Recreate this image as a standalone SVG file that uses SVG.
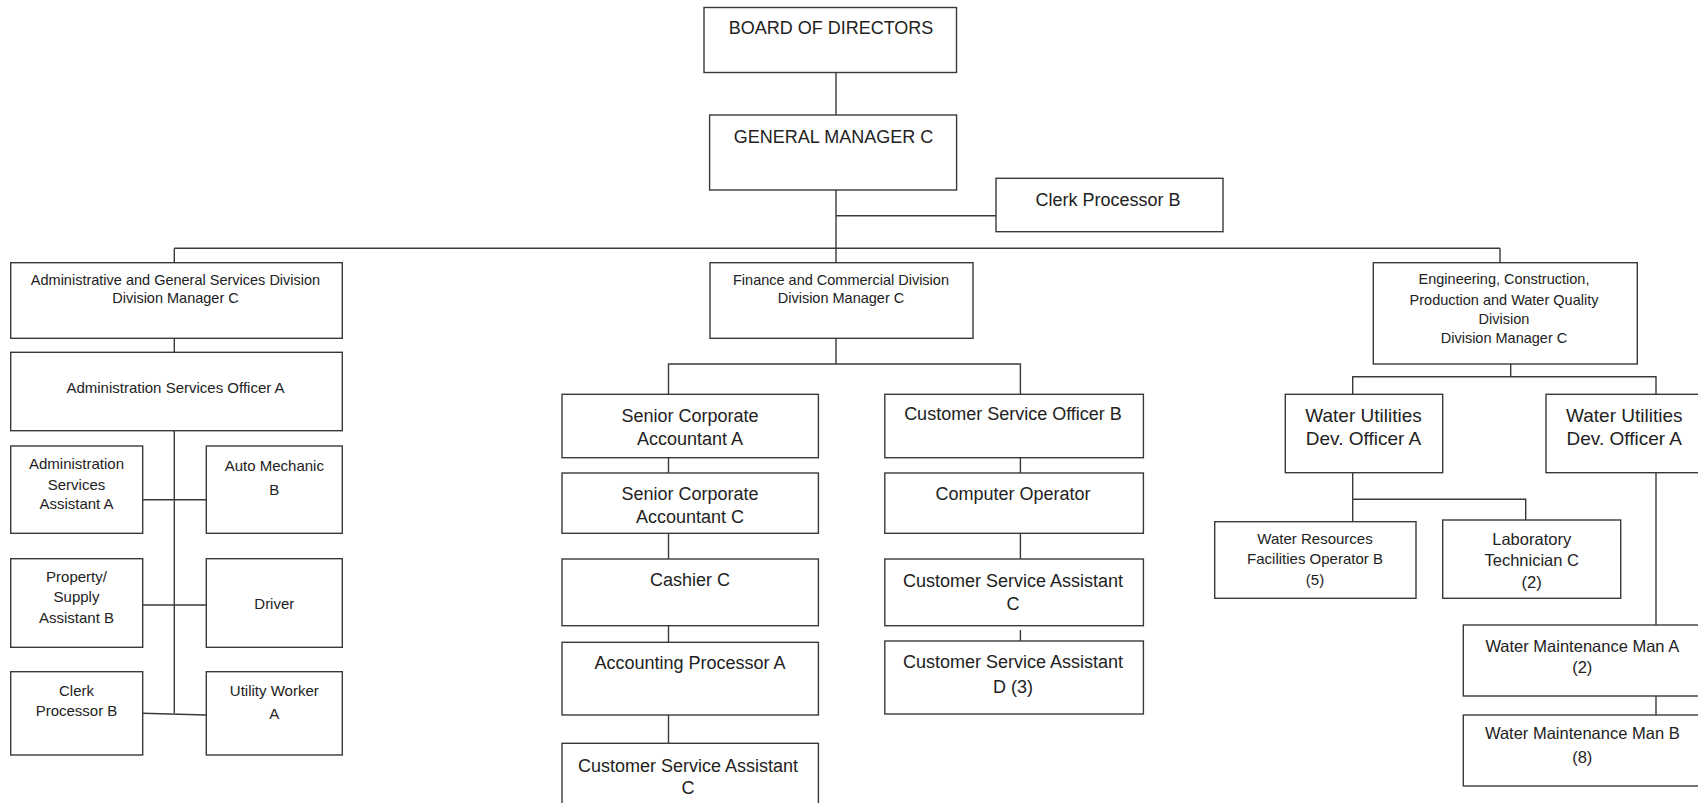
<svg xmlns="http://www.w3.org/2000/svg" width="1698" height="803" viewBox="0 0 1698 803">
<style>
rect{fill:#fff;stroke:#3a3a3a;stroke-width:1.4}
.c line,.c polyline{stroke:#3a3a3a;stroke-width:1.4;fill:none}
text{font-family:"Liberation Sans",Arial,sans-serif;fill:#222;text-anchor:middle}
.xl{font-size:18px}.l{font-size:18px}.m{font-size:16.5px}.s{font-size:15px}.xs{font-size:14.5px}.w{font-size:19px}
</style>
<rect x="0" y="0" width="1698" height="803" style="fill:#fff;stroke:none"/>
<g class="c" id="connectors">
<line x1="836" y1="72.7" x2="836" y2="115"/>
<line x1="836" y1="190" x2="836" y2="262.7"/>
<line x1="836" y1="215.7" x2="996" y2="215.7"/>
<line x1="174.3" y1="248.3" x2="1500" y2="248.3"/>
<line x1="174.3" y1="248.3" x2="174.3" y2="262.7"/>
<line x1="1500" y1="248.3" x2="1500" y2="262.7"/>
<line x1="174.3" y1="338.3" x2="174.3" y2="352.3"/>
<line x1="174.3" y1="430.7" x2="174.3" y2="713.3"/>
<line x1="142.7" y1="499.7" x2="206.3" y2="499.7"/>
<line x1="142.7" y1="605" x2="206.3" y2="605"/>
<line x1="142.7" y1="713.3" x2="206.3" y2="715"/>
<line x1="836" y1="338.3" x2="836" y2="364"/>
<polyline points="668.5,394.3 668.5,364 1020.4,364 1020.4,394.3"/>
<line x1="668.5" y1="457.7" x2="668.5" y2="473"/>
<line x1="668.5" y1="533.3" x2="668.5" y2="559"/>
<line x1="668.5" y1="625.7" x2="668.5" y2="642.3"/>
<line x1="668.5" y1="715" x2="668.5" y2="743.3"/>
<line x1="1020.4" y1="457.7" x2="1020.4" y2="473"/>
<line x1="1020.4" y1="533.3" x2="1020.4" y2="559"/>
<line x1="1020.4" y1="630" x2="1020.4" y2="641"/>
<line x1="1510.7" y1="364" x2="1510.7" y2="376.7"/>
<polyline points="1352.7,394.3 1352.7,376.7 1656,376.7 1656,394.3"/>
<line x1="1352.7" y1="472.7" x2="1352.7" y2="521.7"/>
<polyline points="1352.7,499.3 1525.7,499.3 1525.7,520"/>
<line x1="1656" y1="472.7" x2="1656" y2="625"/>
<line x1="1656" y1="696" x2="1656" y2="715"/>
</g>
<g id="board"><rect x="704" y="7.5" width="252.5" height="65"/><text class="xl" x="831" y="33.8">BOARD OF DIRECTORS</text></g>
<g id="gm"><rect x="709.6" y="115" width="247" height="75"/><text class="xl" x="833.5" y="143.2">GENERAL MANAGER C</text></g>
<g id="clerk-top"><rect x="996" y="178.3" width="227" height="53.4"/><text class="l" x="1108" y="206.3">Clerk Processor B</text></g>
<g id="admin-div"><rect x="10.7" y="262.7" width="331.6" height="75.6"/><text class="xs" x="175.5" y="285.2">Administrative and General Services Division</text><text class="xs" x="175.5" y="303.2">Division Manager C</text></g>
<g id="fin-div"><rect x="710" y="262.7" width="263" height="75.6"/><text class="xs" x="841" y="285.2">Finance and Commercial Division</text><text class="xs" x="841" y="303">Division Manager C</text></g>
<g id="eng-div"><rect x="1373.3" y="262.7" width="264" height="101.3"/><text class="xs" x="1504" y="284.2">Engineering, Construction,</text><text class="xs" x="1504" y="304.5">Production and Water Quality</text><text class="xs" x="1504" y="324">Division</text><text class="xs" x="1504" y="343">Division Manager C</text></g>
<g id="aso"><rect x="10.7" y="352.3" width="331.6" height="78.4"/><text class="s" x="175.5" y="393.3">Administration Services Officer A</text></g>
<g id="asa"><rect x="10.7" y="446" width="132" height="87.3"/><text class="s" x="76.5" y="469">Administration</text><text class="s" x="76.5" y="489.5">Services</text><text class="s" x="76.5" y="509">Assistant A</text></g>
<g id="auto"><rect x="206.3" y="446" width="136" height="87.3"/><text class="s" x="274.3" y="470.5">Auto Mechanic</text><text class="s" x="274.3" y="494.5">B</text></g>
<g id="property"><rect x="10.7" y="558.7" width="132" height="88.6"/><text class="s" x="76.5" y="582">Property/</text><text class="s" x="76.5" y="602">Supply</text><text class="s" x="76.5" y="622.5">Assistant B</text></g>
<g id="driver"><rect x="206.3" y="558.7" width="136" height="88.6"/><text class="s" x="274.3" y="608.7">Driver</text></g>
<g id="clerk-left"><rect x="10.7" y="671.7" width="132" height="83.3"/><text class="s" x="76.5" y="696">Clerk</text><text class="s" x="76.5" y="715.5">Processor B</text></g>
<g id="utility"><rect x="206.3" y="671.7" width="136" height="83.3"/><text class="s" x="274.3" y="696">Utility Worker</text><text class="s" x="274.3" y="718.7">A</text></g>
<g id="sca-a"><rect x="562" y="394.3" width="256.4" height="63.4"/><text class="l" x="690" y="421.5">Senior Corporate</text><text class="l" x="690" y="444.8">Accountant A</text></g>
<g id="cso-b"><rect x="884.8" y="394.3" width="258.6" height="63.4"/><text class="l" x="1013" y="419.8">Customer Service Officer B</text></g>
<g id="sca-c"><rect x="562" y="473" width="256.4" height="60.3"/><text class="l" x="690" y="499.8">Senior Corporate</text><text class="l" x="690" y="522.5">Accountant C</text></g>
<g id="comp-op"><rect x="884.8" y="473" width="258.6" height="60.3"/><text class="l" x="1013" y="499.8">Computer Operator</text></g>
<g id="cashier"><rect x="562" y="559" width="256.4" height="66.7"/><text class="l" x="690" y="585.5">Cashier C</text></g>
<g id="csa-c-right"><rect x="884.8" y="559" width="258.6" height="66.7"/><text class="l" x="1013" y="586.5">Customer Service Assistant</text><text class="l" x="1013" y="609.8">C</text></g>
<g id="acct-proc"><rect x="562" y="642.3" width="256.4" height="72.7"/><text class="l" x="690" y="668.8">Accounting Processor A</text></g>
<g id="csa-d"><rect x="884.8" y="641" width="258.6" height="73"/><text class="l" x="1013" y="668.2">Customer Service Assistant</text><text class="l" x="1013" y="693.2">D (3)</text></g>
<g id="csa-c-left"><rect x="562" y="743.3" width="256.4" height="75"/><text class="l" x="688" y="771.5">Customer Service Assistant</text><text class="l" x="688" y="794.2">C</text></g>
<g id="wudo-left"><rect x="1285.3" y="394.3" width="157.4" height="78.4"/><text class="w" x="1363.5" y="421.8">Water Utilities</text><text class="w" x="1363.5" y="444.5">Dev. Officer A</text></g>
<g id="wudo-right"><rect x="1546" y="394.3" width="160" height="78.4"/><text class="w" x="1624.3" y="421.8">Water Utilities</text><text class="w" x="1624.3" y="444.5">Dev. Officer A</text></g>
<g id="wr"><rect x="1214.7" y="521.7" width="201.3" height="76.6"/><text class="s" x="1315" y="544.4">Water Resources</text><text class="s" x="1315" y="563.7">Facilities Operator B</text><text class="s" x="1315" y="584.7">(5)</text></g>
<g id="lab"><rect x="1442.7" y="520" width="178" height="78.3"/><text class="m" x="1531.7" y="545">Laboratory</text><text class="m" x="1531.7" y="566">Technician  C</text><text class="m" x="1531.7" y="587.6">(2)</text></g>
<g id="wmm-a"><rect x="1463.3" y="625" width="240" height="71"/><text class="m" x="1582.3" y="651.6">Water Maintenance Man A</text><text class="m" x="1582.3" y="672.6">(2)</text></g>
<g id="wmm-b"><rect x="1463.3" y="715" width="240" height="71"/><text class="m" x="1582.3" y="739.3">Water Maintenance Man B</text><text class="m" x="1582.3" y="762.7">(8)</text></g>
</svg>
